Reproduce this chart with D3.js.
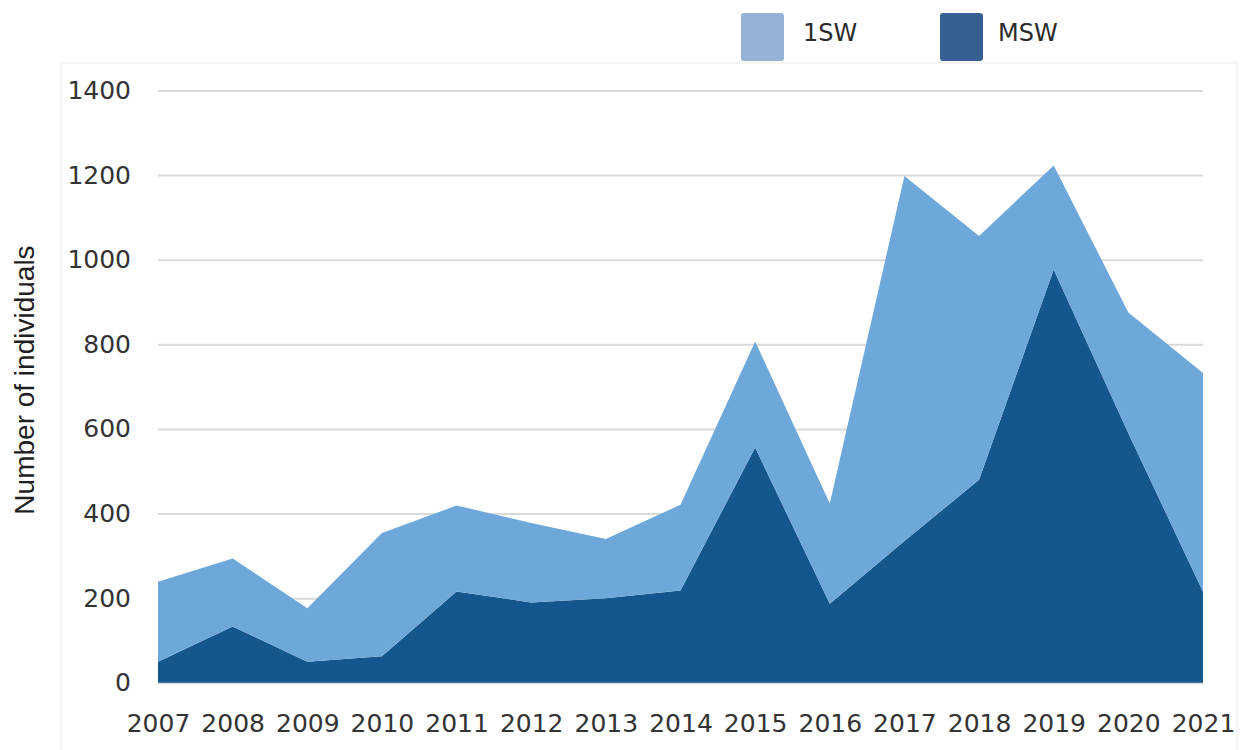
<!DOCTYPE html>
<html>
<head>
<meta charset="utf-8">
<script src="https://cdn.jsdelivr.net/npm/d3@7"></script>
<style>
  html, body { margin: 0; padding: 0; background: #ffffff; }
  svg { display: block; }
</style>
</head>
<body>
<svg id="chart" width="1246" height="750"></svg>
<script>
// Annual counts of returning salmon by sea-age group
const years = [2007, 2008, 2009, 2010, 2011, 2012, 2013, 2014, 2015, 2016, 2017, 2018, 2019, 2020, 2021];
const mswCounts = [50, 133, 50, 63, 216, 190, 200, 218, 556, 187, 335, 480, 977, 590, 215];
const oneSWCounts = [189, 161, 126, 291, 203, 188, 140, 203, 251, 237, 863, 576, 246, 285, 517];
const yTicks = [0, 200, 400, 600, 800, 1000, 1200, 1400];
const seriesKeys = ["MSW", "1SW"];
const legendLabels = ["1SW", "MSW"];

const svg = d3.select("#chart");
const plotLeft = 158, plotRight = 1203, plotTop = 90.5, plotBottom = 682.8;

const rows = years.map((yr, i) => ({ year: yr, "MSW": mswCounts[i], "1SW": oneSWCounts[i] }));
const stacked = d3.stack().keys(seriesKeys)(rows);

const x = d3.scaleLinear().domain([years[0], years[years.length - 1]]).range([plotLeft, plotRight]);
const y = d3.scaleLinear().domain([0, 1400]).range([plotBottom, plotTop]);

const fills = { "MSW": "#14578d", "1SW": "#6ea8db" };
const swatch = { "1SW": "#95b3d7", "MSW": "#376092" };

// faint panel outline
svg.append("rect")
  .attr("x", 61).attr("y", 63).attr("width", 1176).attr("height", 700)
  .attr("fill", "none").attr("stroke", "#f3f3f3").attr("stroke-width", 1.5);

// horizontal gridlines
const grid = svg.append("g").attr("transform", `translate(${plotLeft},0)`)
  .call(d3.axisLeft(y).tickValues(yTicks).tickSize(-(plotRight - plotLeft)).tickFormat(""));
grid.select(".domain").remove();
grid.selectAll("line").attr("stroke", "#d9d9d9").attr("stroke-width", 2);

// stacked areas
const area = d3.area()
  .x(d => x(d.data.year))
  .y0(d => y(d[0]))
  .y1(d => y(d[1]));

svg.append("g").selectAll("path")
  .data(stacked)
  .join("path")
  .attr("d", area)
  .attr("fill", d => fills[d.key]);

// y axis labels
const yAxis = svg.append("g").attr("transform", `translate(131,0)`)
  .call(d3.axisLeft(y).tickValues(yTicks).tickSize(0).tickPadding(0).tickFormat(d3.format("d")));
yAxis.select(".domain").remove();
yAxis.selectAll("text")
  .attr("font-family", "DejaVu Sans")
  .attr("font-size", 25)
  .attr("fill", "#333333");

// x axis labels
const xAxis = svg.append("g").attr("transform", `translate(0,${plotBottom})`)
  .call(d3.axisBottom(x).tickValues(years).tickSize(0).tickPadding(31).tickFormat(d3.format("d")));
xAxis.select(".domain").remove();
xAxis.selectAll("text")
  .attr("font-family", "DejaVu Sans")
  .attr("font-size", 25)
  .attr("fill", "#333333");

// y axis title
svg.append("text")
  .attr("transform", `translate(34,${(245 + 515) / 2}) rotate(-90)`)
  .attr("text-anchor", "middle")
  .attr("font-family", "Liberation Sans, Arial, sans-serif")
  .attr("font-size", 28)
  .attr("fill", "#1f1f1f")
  .text("Number of individuals");

// legend
const legendPos = [{ sx: 741, tx: 803 }, { sx: 940, tx: 998 }];
const legend = svg.append("g");
legendLabels.forEach((lab, i) => {
  legend.append("rect")
    .attr("x", legendPos[i].sx).attr("y", 13)
    .attr("width", 43).attr("height", 48)
    .attr("rx", 3)
    .attr("fill", swatch[lab]);
  legend.append("text")
    .attr("x", legendPos[i].tx).attr("y", 41)
    .attr("font-family", "DejaVu Sans")
    .attr("font-size", 24)
    .attr("fill", "#2b2b2b")
    .text(lab);
});
</script>
</body>
</html>
